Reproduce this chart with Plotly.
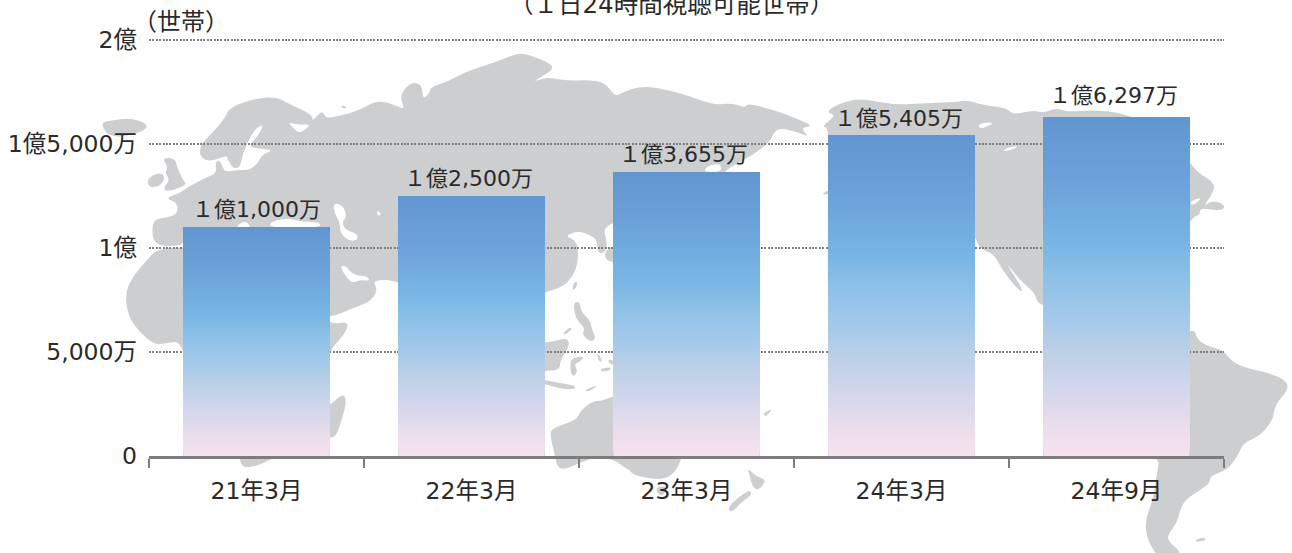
import plotly.graph_objects as go

# ---- chart data ----
categories = ["21年3月", "22年3月", "23年3月", "24年3月", "24年9月"]
households = [11000, 12500, 13655, 15405, 16297]   # unit: 万世帯
bar_labels = ["１億1,000万", "１億2,500万", "１億3,655万", "１億5,405万", "１億6,297万"]
y_ticks = [0, 5000, 10000, 15000, 20000]
y_tick_labels = ["0", "5,000万", "1億", "1億5,000万", "2億"]

# gradient (0 = bottom of a bar, 1 = top of a bar)
grad_stops = [(0.0, (247, 226, 238)), (0.10, (232, 220, 236)), (0.20, (210, 214, 236)),
              (0.32, (186, 207, 230)), (0.40, (165, 201, 234)), (0.52, (142, 193, 232)),
              (0.62, (120, 182, 228)), (0.80, (108, 163, 219)), (1.0, (97, 150, 208))]
N_SLICES = 90

W, H = 1292, 553
LAND = "#cdced0"

# ---- decorative world map outlines (page pixels) ----
land = {
"eurasia": [(200,147),(205,140),(215,130),(225,118),(230,107),(257,98),(277,97),(287,103),(313,115),(312,122),(322,110),(326,118),(333,117),(343,115),(360,110),(377,100),(395,105),(405,110),(400,97),(405,88),(413,82),(422,85),(423,100),(430,92),(431,87),(447,82),(465,72),(493,63),(513,55),(523,53),(543,60),(555,67),(545,75),(532,82),(545,78),(550,78),(570,81),(587,80),(605,82),(615,97),(623,92),(642,86),(663,89),(690,96),(713,105),(733,103),(745,108),(748,103),(780,112),(800,120),(813,126),(800,128),(810,137),(797,132),(780,128),(773,133),(770,142),(750,157),(730,167),(723,174),(680,200),(613,222),(603,230),(607,240),(606,252),(598,254),(597,240),(590,235),(578,231),(565,236),(575,240),(578,248),(578,263),(573,276),(563,287),(545,292),(480,320),(398,280),(372,280),(378,290),(370,302),(353,308),(330,318),(290,320),(260,240),(183,240),(182,246),(158,246),(152,237),(153,220),(163,218),(177,215),(178,203),(165,198),(180,193),(188,187),(205,178),(217,173),(215,162),(220,160),(224,171),(228,160),(227,155),(210,162),(200,157)],
"africa": [(183,247),(157,249),(147,260),(133,276),(125,293),(128,316),(140,333),(155,345),(167,343),(183,341),(200,420),(240,450),(240,465),(248,468),(262,464),(277,456),(300,440),(330,350),(337,343),(347,330),(348,321),(330,325),(300,300),(290,247)],
"iceland": [(102,122),(115,120),(130,118),(146,123),(147,129),(135,134),(120,137),(108,135),(103,128)],
"great_britain": [(162,158),(175,158),(177,167),(183,180),(187,185),(167,192),(163,188),(170,180),(165,173),(168,167)],
"ireland": [(148,177),(162,172),(165,180),(158,187),(148,187)],
"novaya": [(340,105),(348,107),(343,109)],
"madagascar": [(330,405),(340,396),(345,395),(346,405),(340,425),(336,436),(330,438),(320,438),(320,410)],
"taiwan": [(575,281),(578,283),(574,291),(572,288)],
"philippines": [(574,302),(580,302),(581,312),(590,320),(592,330),(596,338),(591,342),(582,335),(585,328),(578,322),(574,312)],
"palawan": [(563,333),(570,327),(572,329),(565,335)],
"borneo": [(530,345),(555,341),(567,338),(570,345),(560,360),(560,370),(545,371),(530,371)],
"sulawesi": [(571,358),(585,356),(580,362),(574,364),(578,372),(572,377),(570,368)],
"halmahera": [(597,353),(601,357),(602,363),(598,360)],
"papua_w": [(607,359),(620,362),(620,366),(610,364)],
"seram": [(600,369),(610,367),(611,370),(602,372)],
"java": [(530,378),(545,380),(560,383),(577,386),(573,390),(558,388),(545,384),(530,382)],
"timor": [(585,390),(597,385),(595,388),(587,392)],
"japan": [(605,251),(613,247),(625,240),(625,262),(610,262),(605,258)],
"australia": [(613,396),(602,401),(593,401),(580,411),(577,420),(552,428),(550,436),(555,455),(557,466),(563,470),(580,463),(597,456),(615,460),(625,468),(630,470),(633,475),(657,480),(673,476),(683,456),(690,420),(650,390)],
"tasmania": [(655,487),(667,486),(665,494),(659,496)],
"nz_north": [(747,468),(757,477),(767,480),(758,491),(752,486),(750,476)],
"nz_south": [(750,490),(752,495),(740,503),(732,513),(727,508),(740,496)],
"new_caledonia": [(763,413),(772,409),(770,412),(765,417)],
"kuril": [(822,194),(828,190),(835,190),(826,195)],
"north_america": [(828,150),(828,127),(822,127),(830,120),(835,115),(826,112),(838,104),(860,98),(893,105),(927,103),(957,102),(967,100),(983,105),(1007,108),(1013,115),(1033,110),(1043,113),(1057,108),(1067,112),(1093,110),(1123,113),(1150,125),(1191,163),(1197,172),(1215,183),(1213,193),(1203,207),(1213,200),(1225,205),(1223,210),(1213,210),(1200,208),(1200,215),(1192,217),(1150,280),(1100,306),(1044,306),(1037,302),(1035,293),(1022,282),(1012,270),(1006,263),(1012,272),(1023,290),(1020,292),(1002,270),(995,255),(980,248),(976,240),(960,200)],
"south_america": [(1100,331),(1191,331),(1195,331),(1198,341),(1213,348),(1223,350),(1233,363),(1253,370),(1270,373),(1287,381),(1288,390),(1275,405),(1273,420),(1260,436),(1243,443),(1238,456),(1227,470),(1210,476),(1210,483),(1200,490),(1185,500),(1180,510),(1177,523),(1167,536),(1170,543),(1180,551),(1180,560),(1160,560),(1147,540),(1145,520),(1153,500),(1157,473),(1160,456),(1100,420)],
"falklands": [(1195,540),(1205,537),(1206,540),(1197,542)],
}
water = {
"baltic": [(224,172),(223,165),(228,158),(232,168),(240,168),(243,153),(250,137),(257,127),(264,125),(257,137),(248,147),(263,149),(273,150),(262,155),(258,163),(250,170),(237,170)],
"white_sea": [(288,122),(298,125),(312,124),(300,134),(293,128)],
"black_sea": [(270,222),(287,218),(303,222),(320,222),(320,228),(270,228)],
"adriatic": [(234,228),(245,220),(252,228)],
"caspian": [(333,203),(343,205),(347,217),(342,222),(345,230),(358,234),(357,241),(347,240),(340,232),(340,222),(335,215)],
"aral": [(377,210),(381,213),(380,216),(377,215)],
"persian_gulf": [(340,267),(345,265),(353,275),(367,276),(370,281),(360,280),(352,283),(347,278)],
"sakhalin_gap": [(703,172),(708,166),(720,163),(722,172)],
"lake_n": [(978,124),(990,122),(993,124),(985,127),(980,129)],
"lake_s": [(1003,150),(1010,147),(1018,146),(1014,149),(1006,151)],
"st_lawrence": [(1191,201),(1202,197),(1196,204),(1191,205)],
}


def path(points):
    # rounded outline: quadratic curve through the midpoints of the traced points
    def fmt(x, y):
        return f"{x / W:.5f} {1 - y / H:.5f}"
    n = len(points)
    mids = [((points[i][0] + points[(i + 1) % n][0]) / 2, (points[i][1] + points[(i + 1) % n][1]) / 2)
            for i in range(n)]
    d = "M " + fmt(*mids[-1])
    for i in range(n):
        d += " Q " + fmt(*points[i]) + " " + fmt(*mids[i])
    return d + " Z"


shapes = []
for pts in land.values():
    shapes.append(dict(type="path", xref="paper", yref="paper", layer="below", path=path(pts),
                       fillcolor=LAND, line=dict(width=0)))
for pts in water.values():
    shapes.append(dict(type="path", xref="paper", yref="paper", layer="below", path=path(pts),
                       fillcolor="white", line=dict(width=0)))


def gradient(t):
    for (t0, c0), (t1, c1) in zip(grad_stops, grad_stops[1:]):
        if t <= t1:
            f = (t - t0) / (t1 - t0)
            return "rgb(%d,%d,%d)" % tuple(round(a + (b - a) * f) for a, b in zip(c0, c1))
    return "rgb(%d,%d,%d)" % grad_stops[-1][1]


FONT = "'DejaVu Sans', 'Noto Sans CJK JP', sans-serif"
TXT = "#2a2a2a"
BAR_W = 0.68

fig = go.Figure()
fig.add_trace(go.Bar(
    x=categories, y=households, width=BAR_W, marker=dict(color="#74b3e2", line=dict(width=0)),
    hoverinfo="skip", showlegend=False))
# painter's stack: each slice runs from its gradient step up to the bar top, so no seams show
for k in range(N_SLICES):
    fig.add_trace(go.Bar(
        x=categories,
        y=[v * (N_SLICES - k) / N_SLICES for v in households],
        base=[v * k / N_SLICES for v in households],
        width=BAR_W,
        marker=dict(color=gradient((k + 0.5) / N_SLICES), line=dict(width=0)),
        hoverinfo="skip", showlegend=False))

annotations = [
    dict(text="（世帯）", xref="paper", yref="paper", x=181 / W, y=1 - 22 / H, showarrow=False,
         xanchor="center", yanchor="middle", font=dict(family=FONT, size=24, color=TXT)),
    dict(text="（１日24時間視聴可能世帯）", xref="paper", yref="paper", x=671 / W, y=1 - 5 / H,
         showarrow=False, xanchor="center", yanchor="middle",
         font=dict(family=FONT, size=24.5, color=TXT)),
]
for i, (cat, val, lab) in enumerate(zip(categories, households, bar_labels)):
    annotations.append(dict(text=lab, x=cat, y=val, xref="x", yref="y", showarrow=False,
                            xanchor="center", yanchor="bottom",
                            yshift=7 if i == 4 else 3, xshift=0 if i == 0 else -3,
                            font=dict(family=FONT, size=22, color=TXT)))

fig.update_layout(
    width=W, height=H, autosize=False,
    margin=dict(l=0, r=0, t=0, b=0, autoexpand=False),
    paper_bgcolor="white", plot_bgcolor="rgba(0,0,0,0)",
    barmode="overlay", bargap=0.314, showlegend=False,
    shapes=shapes,
    xaxis=dict(domain=[149 / W, 1224 / W], type="category", categoryorder="array", automargin=False,
               categoryarray=categories, tickson="boundaries", ticks="outside", ticklen=9,
               tickwidth=2, tickcolor="#7d7d7d", showline=True, linewidth=3, linecolor="#7d7d7d",
               showgrid=False, zeroline=False, ticklabelstandoff=12,
               tickfont=dict(family=FONT, size=23.5, color=TXT)),
    yaxis=dict(domain=[1 - 456 / H, 1 - (40 - 1.04) / H], range=[0, 20050], tickmode="array",
               automargin=False, tickvals=y_ticks, ticktext=y_tick_labels, ticks="", showline=False,
               zeroline=False, showgrid=True, gridcolor="#808080", gridwidth=1.6,
               griddash="2px,1.4px", ticklabelstandoff=11,
               tickfont=dict(family=FONT, size=23.5, color=TXT)),
    annotations=annotations,
)

fig.write_html("out.html", config={"displayModeBar": False},
               post_script="document.body.style.margin='0';document.body.style.overflow='hidden';")
